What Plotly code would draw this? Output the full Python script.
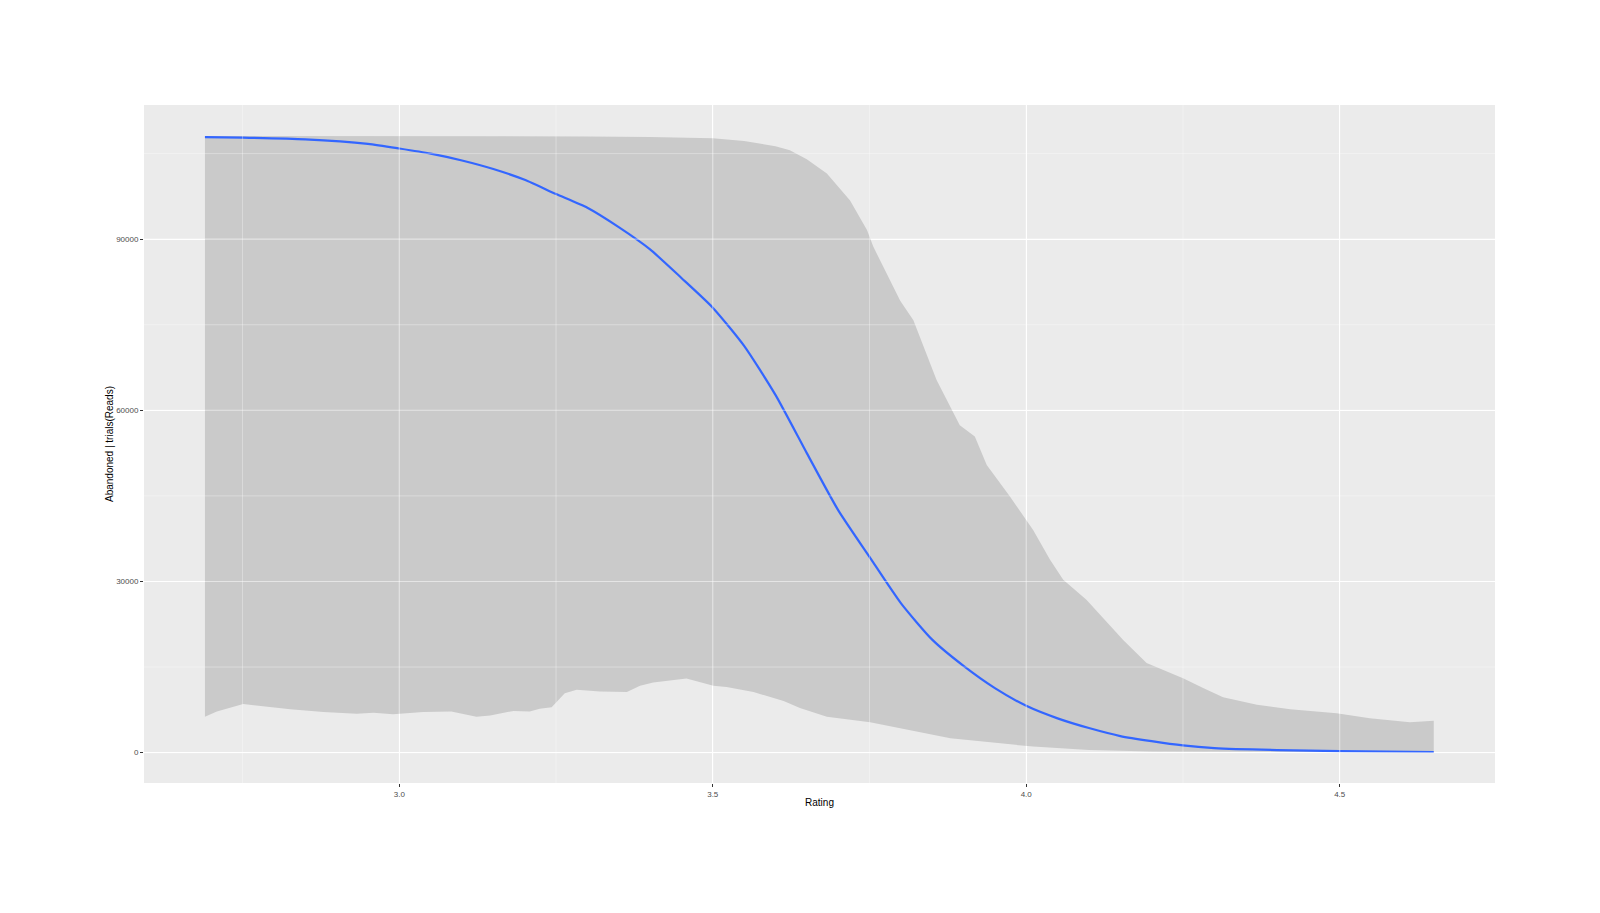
import plotly.graph_objects as go

# Median fit line
rating_line = [2.69, 2.75, 2.85, 2.95, 3.0, 3.05, 3.1, 3.15, 3.2, 3.25, 3.3, 3.35, 3.4, 3.45,
               3.5, 3.55, 3.6, 3.65, 3.7, 3.75, 3.8, 3.85, 3.9, 3.95, 4.0, 4.05, 4.1, 4.15,
               4.2, 4.25, 4.3, 4.4, 4.5, 4.65]
abandoned = [107900, 107800, 107500, 106700, 105900, 105000, 103800, 102300, 100400, 97900,
             95500, 92100, 88200, 83200, 78000, 71300, 62700, 52500, 42500, 34300, 26200,
             19800, 15200, 11300, 8200, 6000, 4300, 2900, 2000, 1250, 800, 450, 270, 100]

# Upper band
rating_upper = [2.69, 3.0, 3.3, 3.4, 3.5, 3.55, 3.6, 3.623, 3.65, 3.682, 3.719, 3.746, 3.756,
                3.799, 3.82, 3.857, 3.894, 3.918, 3.937, 3.974, 4.011, 4.038, 4.059, 4.096,
                4.155, 4.192, 4.251, 4.283, 4.314, 4.368, 4.421, 4.495, 4.548, 4.612, 4.65]
upper = [108100, 108100, 108000, 107900, 107700, 107200, 106300, 105600, 104000, 101500,
         96800, 91600, 88700, 79200, 75800, 65300, 57400, 55400, 50400, 44900, 39000,
         33800, 30300, 26800, 19700, 15700, 13000, 11300, 9700, 8400, 7600, 6900, 6000,
         5300, 5600]

# Lower band
rating_lower = [2.69, 2.709, 2.751, 2.826, 2.879, 2.932, 2.959, 2.99, 3.038, 3.083, 3.123,
                3.145, 3.161, 3.182, 3.208, 3.224, 3.243, 3.264, 3.283, 3.32, 3.363, 3.384,
                3.405, 3.458, 3.501, 3.522, 3.565, 3.613, 3.639, 3.682, 3.751, 3.799, 3.879,
                4.011, 4.1, 4.2, 4.4, 4.65]
lower = [6300, 7200, 8500, 7600, 7100, 6800, 7000, 6700, 7100, 7200, 6300, 6500, 6800, 7300,
         7200, 7700, 7950, 10400, 11000, 10700, 10600, 11700, 12300, 13000, 11700, 11500,
         10600, 9060, 7800, 6300, 5300, 4300, 2500, 1050, 450, 200, 80, 30]

x_ticks = [3.0, 3.5, 4.0, 4.5]
x_tick_labels = ["3.0", "3.5", "4.0", "4.5"]
y_ticks = [0, 30000, 60000, 90000]
y_tick_labels = ["0", "30000", "60000", "90000"]
x_minor = [2.75, 3.25, 3.75, 4.25]
y_minor = [15000, 45000, 75000, 105000]

fig = go.Figure()

fig.add_trace(go.Scatter(
    x=rating_upper + rating_lower[::-1],
    y=upper + lower[::-1],
    fill="toself", fillcolor="#CACACA", mode="lines", line=dict(width=0),
    hoverinfo="skip", showlegend=False))

fig.add_trace(go.Scatter(
    x=rating_line, y=abandoned, mode="lines",
    line=dict(color="#3366FF", width=2.2, shape="spline", smoothing=0.6),
    showlegend=False))

xr = [2.5928, 4.7477]
yr = [-5330, 113520]

shapes = []
for xm in x_minor:
    shapes.append(dict(type="line", xref="x", yref="paper", x0=xm, x1=xm, y0=0, y1=1,
                       line=dict(color="rgba(255,255,255,0.55)", width=0.6), layer="above"))
for ym in y_minor:
    shapes.append(dict(type="line", xref="paper", yref="y", x0=0, x1=1, y0=ym, y1=ym,
                       line=dict(color="rgba(255,255,255,0.55)", width=0.6), layer="above"))
for xm in x_ticks:
    shapes.append(dict(type="line", xref="x", yref="paper", x0=xm, x1=xm, y0=0, y1=1,
                       line=dict(color="rgba(255,255,255,0.5)", width=1.1), layer="above"))
for ym in y_ticks:
    shapes.append(dict(type="line", xref="paper", yref="y", x0=0, x1=1, y0=ym, y1=ym,
                       line=dict(color="rgba(255,255,255,0.5)", width=1.1), layer="above"))

fig.update_layout(
    width=1600, height=913,
    paper_bgcolor="white", plot_bgcolor="#EBEBEB",
    margin=dict(l=136, r=113, t=97, b=138, autoexpand=False),
    font=dict(family="Liberation Sans, Arial, sans-serif"),
    shapes=shapes,
    xaxis=dict(range=xr, tickvals=x_ticks, ticktext=x_tick_labels,
               showgrid=True, gridcolor="white", gridwidth=1.1,
               zeroline=False, ticks="outside", ticklen=3, tickwidth=1, tickcolor="#333333",
               tickfont=dict(size=8, color="#4D4D4D"),
               title=dict(text="Rating", font=dict(size=10, color="black"), standoff=1)),
    yaxis=dict(range=yr, tickvals=y_ticks, ticktext=y_tick_labels,
               showgrid=True, gridcolor="white", gridwidth=1.1,
               zeroline=False, ticks="outside", ticklen=3, tickwidth=1, tickcolor="#333333",
               tickfont=dict(size=8, color="#4D4D4D"),
               title=dict(text="Abandoned | trials(Reads)", font=dict(size=10, color="black"),
                          standoff=0)),
)

fig.write_html("out.html")
